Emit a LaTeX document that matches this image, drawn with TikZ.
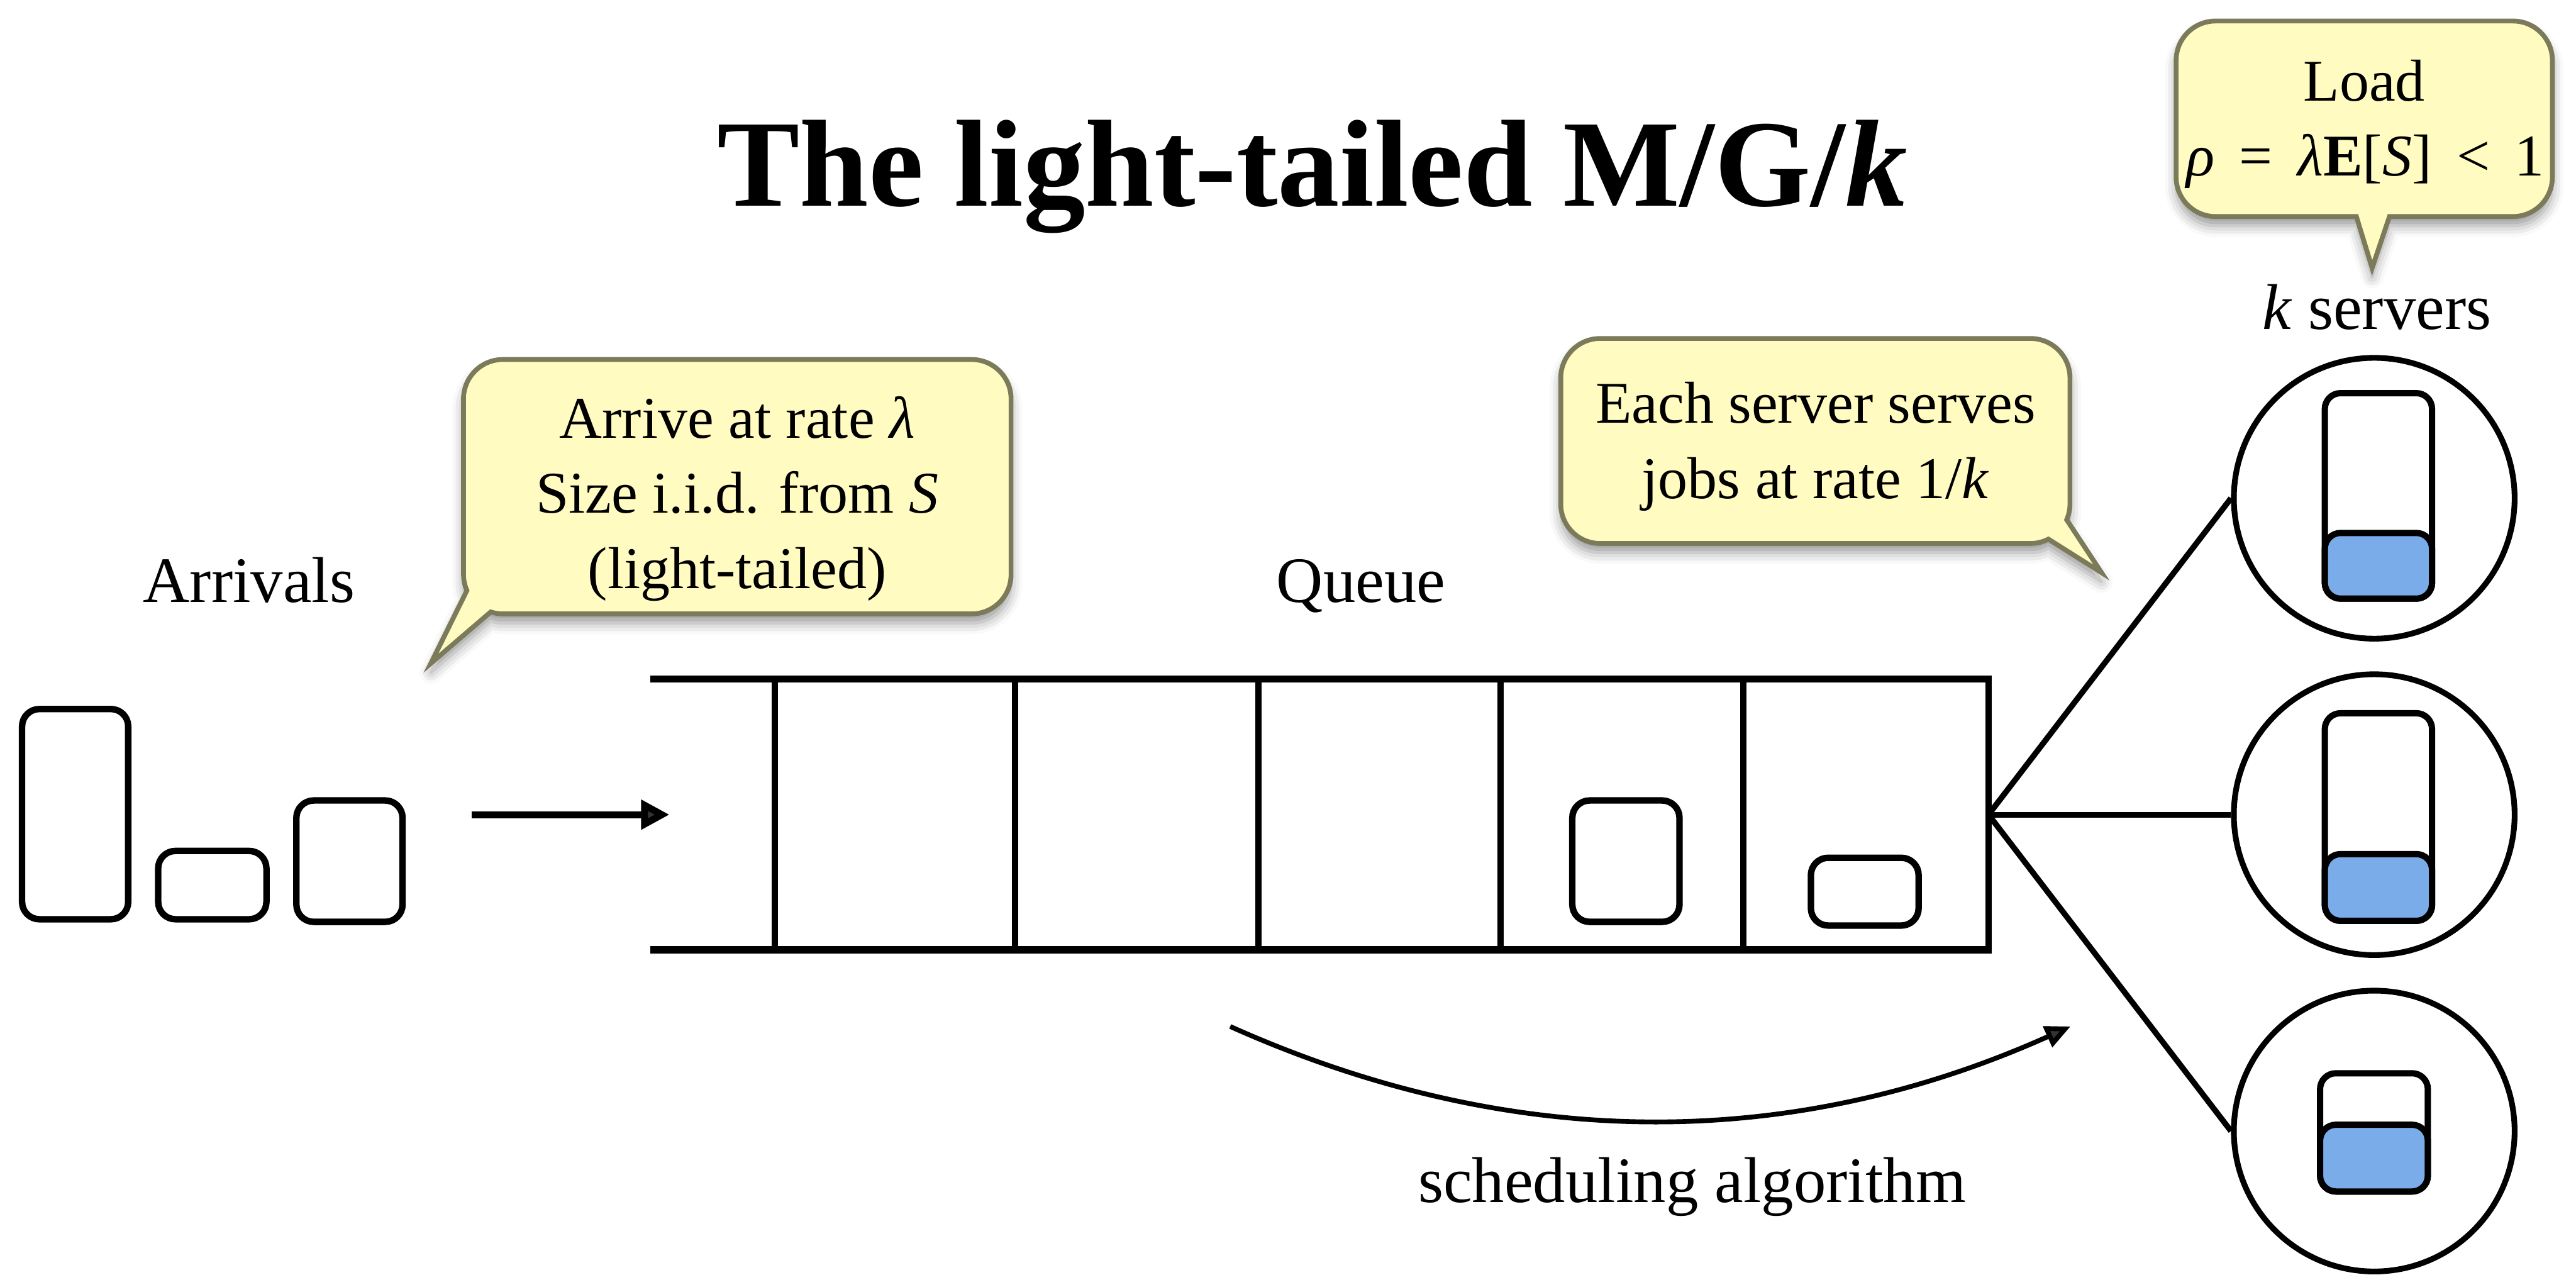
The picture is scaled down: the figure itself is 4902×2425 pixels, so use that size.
\documentclass[tikz,border=0pt]{standalone}
\usepackage{fontspec}
\setmainfont{Liberation Serif}
\usetikzlibrary{arrows.meta,shadows.blur}

\definecolor{notefill}{RGB}{255,251,193}
\definecolor{noteedge}{RGB}{123,122,90}
\definecolor{jobblue}{RGB}{123,172,234}

\newcommand{\mathsp}{\hspace{0.42em}}

\tikzset{
  headline/.style={anchor=base, inner sep=0pt, font=\fontsize{67}{80}\selectfont\bfseries},
  lbl/.style={anchor=base, inner sep=0pt, font=\fontsize{35}{42}\selectfont},
  notetext/.style={anchor=base, inner sep=0pt, font=\fontsize{32}{40}\selectfont},
  note/.style={fill=notefill, draw=noteedge, line width=2.6pt,
    blur shadow={shadow xshift=0pt, shadow yshift=-5pt, shadow blur radius=6pt, shadow opacity=40}},
  job/.style={draw, fill=white, line width=3.5pt, rounded corners=0.33cm},
  qline/.style={line width=4pt},
  qwall/.style={line width=3.4pt},
  feed/.style={line width=3.7pt, -{Triangle[length=0.54cm, width=0.54cm]}},
  link/.style={line width=3.1pt},
  server/.style={circle, draw, line width=3.1pt, minimum size=5.34cm, inner sep=0pt},
  bin/.style={draw, fill=white, line width=3.4pt, rounded corners=0.3cm},
  busy/.style={draw, fill=jobblue, line width=3.4pt, rounded corners=0.3cm},
  sched/.style={line width=2.6pt, -{Triangle[length=0.48cm, width=0.42cm]}},
}

\begin{document}
\begin{tikzpicture}[x=0.01cm, y=-0.01cm]
\useasboundingbox (0,0) rectangle (4902,2425);

% title
\node[headline] (title) at (2497,392) {The light-tailed M/G/\textit{k}};

% labels
\node[lbl] (arrivals) at (474,1146) {Arrivals};
\node[lbl] (queue) at (2590,1146) {Queue};
\node[lbl] (kservers) at (4523,627) {\textit{k} servers};
\node[lbl] (schedtext) at (3220,2288) {scheduling algorithm};

% callout: arrivals
\draw[note] (957,684) -- (1849,684) arc[start angle=270,end angle=360,radius=75]
  -- (1924,1093) arc[start angle=0,end angle=90,radius=75]
  -- (957,1168) arc[start angle=90,end angle=108,radius=75]
  -- (820,1262) -- (888.5,1123.5) arc[start angle=156,end angle=180,radius=75]
  -- (882,759) arc[start angle=180,end angle=270,radius=75] -- cycle;
\node[notetext] (arr1) at (1403,833) {Arrive at rate \textit{λ}};
\node[notetext] (arr2) at (1403,976) {Size i.i.d. from \textit{S}};
\node[notetext] (arr3) at (1403,1119) {(light-tailed)};

% callout: service rate
\draw[note] (3045,644) -- (3864,644) arc[start angle=270,end angle=360,radius=75]
  -- (3939,959) arc[start angle=0,end angle=23.5,radius=75]
  -- (3999,1089.5) -- (3898,1025.8) arc[start angle=63,end angle=90,radius=75]
  -- (3045,1034) arc[start angle=90,end angle=180,radius=75]
  -- (2970,719) arc[start angle=180,end angle=270,radius=75] -- cycle;
\node[notetext] (rate1) at (3455,805) {Each server serves};
\node[notetext] (rate2) at (3455,949) {jobs at rate 1/\textit{k}};

% callout: load
\draw[note] (4216,40) -- (4782,40) arc[start angle=270,end angle=360,radius=75]
  -- (4857,337) arc[start angle=0,end angle=90,radius=75]
  -- (4547,412) -- (4514,510) -- (4484,412)
  -- (4216,412) arc[start angle=90,end angle=180,radius=75]
  -- (4141,115) arc[start angle=180,end angle=270,radius=75] -- cycle;
\node[notetext] (load1) at (4499,192) {Load};
\node[notetext] (load2) at (4501,335) {\textit{ρ}\mathsp=\mathsp\textit{λ}\textbf{E}[\textit{S}]\mathsp<\mathsp1};

% arriving jobs
\draw[job] (42,1349) rectangle (244,1749);
\draw[job] (301,1619) rectangle (507,1749);
\draw[job] (564,1523) rectangle (766,1754);

% arrival arrow
\coordinate (feedA) at (897,1550);
\coordinate (feedB) at (1274,1550);
\draw[feed] (feedA) -- (feedB);

% queue
\draw[qline] (1238,1292) -- (3789,1292);
\draw[qline] (1238,1807) -- (3789,1807);
\foreach \x in {1474,1931,2395,2856,3317,3784}
  \draw[qwall] (\x,1285) -- (\x,1814);

% jobs waiting in the queue
\draw[job] (2992,1523) rectangle (3196,1754);
\draw[job] (3446,1632) rectangle (3651,1761);

% servers
\coordinate (qout) at (3784,1550);
\node[server] (s1) at (4518,948) {};
\node[server] (s2) at (4518,1550) {};
\node[server] (s3) at (4518,2152) {};
\draw[link] (qout) -- (s1.west);
\draw[link] (qout) -- (s2.west);
\draw[link] (qout) -- (s3.west);

% jobs in service
\draw[bin] (4424,748) rectangle (4628,1139);
\draw[busy] (4424,1014) rectangle (4628,1139);
\draw[bin] (4424,1357) rectangle (4628,1752);
\draw[busy] (4424,1625) rectangle (4628,1752);
\draw[bin] (4415,2042) rectangle (4620,2267);
\draw[busy] (4415,2140) rectangle (4620,2267);

% scheduling arrow
\coordinate (schedA) at (2341,1953);
\coordinate (schedB) at (3940,1953);
\draw[sched] (schedA) .. controls (2874,2192) and (3407,2192) .. (schedB);
\end{tikzpicture}
\end{document}
